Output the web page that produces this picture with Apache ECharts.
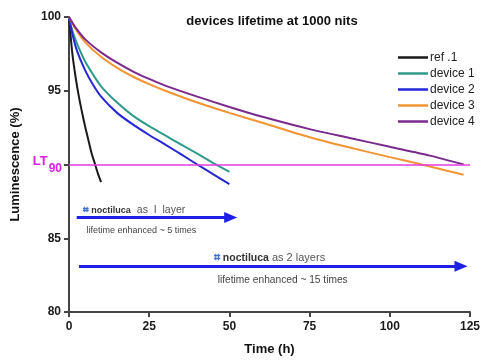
<!DOCTYPE html>
<html>
<head>
<meta charset="utf-8">
<script src="https://cdn.jsdelivr.net/npm/echarts@6/dist/echarts.min.js"></script>
<style>
  html, body { margin: 0; padding: 0; background: #fff; }
  #chart { width: 483px; height: 361px; }
</style>
</head>
<body>
<div id="chart"></div>
<script>
// [time (h), luminescence (%)]
const ref1 = [[0, 100], [1, 97.6], [2, 96.0], [3, 94.7], [4, 93.6], [5, 92.6], [6, 91.7], [7, 90.8], [8, 90.1], [9, 89.4], [10, 88.8]];
const device1 = [[0, 100], [1, 99.1], [2.5, 98.2], [5, 97.0], [7.5, 96.1], [10, 95.3], [15, 94.2], [20, 93.3], [25, 92.6], [30, 91.97], [35, 91.35], [40, 90.73], [45, 90.1], [50, 89.5]];
const device2 = [[0, 100], [1, 98.9], [2.5, 97.7], [5, 96.4], [7.5, 95.4], [10, 94.6], [15, 93.5], [20, 92.7], [25, 92.0], [30, 91.35], [35, 90.68], [40, 90.0], [45, 89.33], [50, 88.67]];
const device3 = [[0, 100], [2, 99.2], [5, 98.3], [10, 97.3], [15, 96.55], [20, 95.95], [25, 95.45], [30, 95.0], [40, 94.2], [50, 93.5], [60, 92.85], [75, 91.85], [87.5, 91.15], [100, 90.5], [110, 90.0], [123, 89.3]];
const device4 = [[0, 100], [2, 99.3], [5, 98.5], [10, 97.6], [15, 96.9], [20, 96.3], [25, 95.8], [30, 95.35], [40, 94.6], [50, 93.9], [60, 93.25], [75, 92.4], [87.5, 91.8], [100, 91.2], [112.5, 90.6], [123, 90.0]];

const seriesNames = ["ref .1", "device 1", "device 2", "device 3", "device 4"];
const seriesColors = ["#1a1a1a", "#2f9a8c", "#2626d9", "#f39433", "#7a2a8c"];
const seriesData = [ref1, device1, device2, device3, device4];

const lt90Level = 90;
// arrows: [startTime, endTime, luminescence level]
const arrowOneLayer = [2.4, 50.4, 86.4];
const arrowTwoLayers = [3.1, 122.2, 83.1];
// note anchors: [time, luminescence, text]
const notes = [
  [4.3, 86.9, "{icon1|⌗}{brand1|noctiluca}{rest1|as  I  layer}"],
  [5.3, 85.55, "{small|lifetime enhanced ~ 5 times}"],
  [45.0, 83.65, "{icon2|⌗}{brand2|noctiluca}{rest2|as 2 layers}"],
  [46.2, 82.15, "{plain|lifetime enhanced ~ 15 times}"],
];

const font = "'Liberation Sans', Arial, sans-serif";
const arrowBlue = "#1f1fe6";

const chart = echarts.init(document.getElementById("chart"), null, { renderer: "canvas" });

const noteRich = {
  icon1: { color: "#3b6fd6", fontSize: 10, fontWeight: "bold", fontFamily: "'DejaVu Sans', sans-serif", padding: [0, 2, 0, 0] },
  brand1: { color: "#333", fontSize: 9, fontWeight: "bold", fontFamily: font, padding: [0, 6, 0, 0] },
  rest1: { color: "#555", fontSize: 10.5, fontFamily: font },
  icon2: { color: "#3b6fd6", fontSize: 11, fontWeight: "bold", fontFamily: "'DejaVu Sans', sans-serif", padding: [0, 3, 0, 0] },
  brand2: { color: "#333", fontSize: 10.5, fontWeight: "bold", fontFamily: font, padding: [0, 3, 0, 0] },
  rest2: { color: "#555", fontSize: 11, fontFamily: font },
  small: { color: "#444", fontSize: 9, fontFamily: font },
  plain: { color: "#444", fontSize: 10.2, fontFamily: font },
};

function arrowLine(spec) {
  const [x0, x1, y] = spec;
  return [{ coord: [x0, y] }, { coord: [x1, y] }];
}

const curves = seriesNames.map((name, i) => ({
  type: "line",
  name: name,
  data: seriesData[i],
  showSymbol: false,
  smooth: 0.25,
  lineStyle: { color: seriesColors[i], width: 2 },
  itemStyle: { color: seriesColors[i] },
  z: 3,
}));

const annotations = {
  type: "line",
  name: "notes",
  data: [],
  silent: true,
  markLine: {
    silent: true,
    animation: false,
    symbol: ["none", "triangle"],
    symbolSize: [11, 13],
    label: { show: false },
    lineStyle: { color: arrowBlue, width: 3, type: "solid" },
    data: [arrowLine(arrowOneLayer), arrowLine(arrowTwoLayers)],
  },
  markPoint: {
    silent: true,
    animation: false,
    symbol: "circle",
    symbolSize: 1,
    itemStyle: { color: "rgba(0,0,0,0)" },
    data: notes.map(([x, y, text]) => ({
      coord: [x, y],
      label: {
        show: true,
        position: "right",
        distance: 0,
        formatter: text,
        rich: noteRich,
      },
    })),
  },
};

const lt90 = {
  type: "line",
  name: "LT90",
  data: [],
  silent: true,
  markLine: {
    silent: true,
    animation: false,
    symbol: "none",
    lineStyle: { color: "#e23de2", width: 1.5, type: "solid" },
    label: {
      show: true,
      position: "start",
      distance: 7,
      formatter: "{a|LT}{b|90}",
      rich: {
        a: { color: "#e020e0", fontSize: 13, fontWeight: "bold", fontFamily: font, lineHeight: 20, verticalAlign: "top", padding: [0, 1, 0, 0] },
        b: { color: "#e020e0", fontSize: 12, fontWeight: "bold", fontFamily: font, lineHeight: 20, verticalAlign: "bottom" },
      },
    },
    data: [{ yAxis: lt90Level }],
  },
};

chart.setOption({
  backgroundColor: "#fff",
  animation: false,
  title: {
    text: "devices lifetime at 1000 nits",
    left: 267,
    textAlign: "center",
    top: 10,
    textStyle: { color: "#111", fontFamily: font, fontSize: 13, fontWeight: "bold" },
  },
  legend: {
    data: seriesNames,
    orient: "vertical",
    left: 393,
    top: 46.5,
    icon: "rect",
    itemWidth: 30,
    itemHeight: 2.5,
    itemGap: 4,
    textStyle: { color: "#222", fontFamily: font, fontSize: 12, padding: [0, 0, 0, -3] },
  },
  grid: { left: 69, right: 11, top: 17, bottom: 46, containLabel: false },
  xAxis: {
    type: "value",
    min: 0,
    max: 125,
    interval: 25,
    name: "Time (h)",
    nameLocation: "middle",
    nameGap: 31,
    nameTextStyle: { color: "#111", fontFamily: font, fontSize: 13, fontWeight: "bold" },
    axisLine: { lineStyle: { color: "#444", width: 2 } },
    axisTick: { length: 5, lineStyle: { color: "#444", width: 2 } },
    axisLabel: { color: "#1a1a1a", fontFamily: font, fontSize: 12, fontWeight: "bold", margin: 9 },
    splitLine: { show: false },
  },
  yAxis: {
    type: "value",
    min: 80,
    max: 100,
    interval: 5,
    name: "Luminescence (%)",
    nameLocation: "middle",
    nameGap: 47,
    nameTextStyle: { color: "#111", fontFamily: font, fontSize: 13, fontWeight: "bold" },
    axisLine: { show: true, lineStyle: { color: "#444", width: 2 } },
    axisTick: { show: true, length: 5, lineStyle: { color: "#444", width: 2 } },
    axisLabel: {
      color: "#1a1a1a",
      fontFamily: font,
      fontSize: 12,
      fontWeight: "bold",
      margin: 8,
      // the LT90 marker takes the place of the 90 tick label
      formatter: (value) => (value === lt90Level ? "" : String(value)),
    },
    splitLine: { show: false },
  },
  series: [lt90, ...curves, annotations],
});
</script>
</body>
</html>
